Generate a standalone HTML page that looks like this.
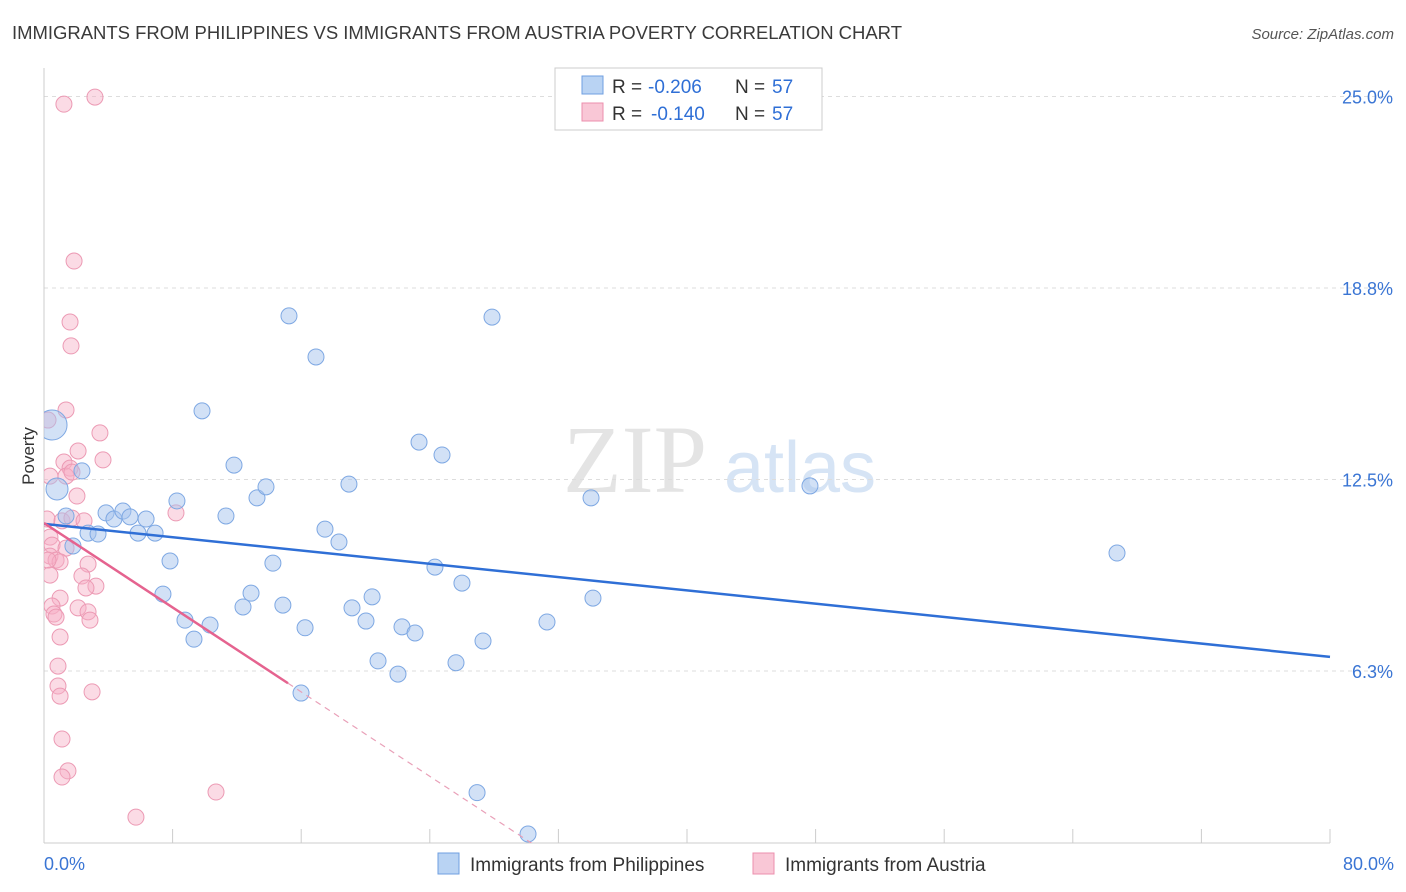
<!DOCTYPE html>
<html><head><meta charset="utf-8"><style>
body{margin:0;background:#fff;font-family:"Liberation Sans",sans-serif;}
svg{display:block}
</style></head><body>
<svg id="chart" width="1406" height="892">
<defs><clipPath id="plotclip"><rect x="44" y="60" width="1360" height="783"/></clipPath></defs>
<text x="12" y="39" font-size="18.5" fill="#3a3a3a" textLength="890">IMMIGRANTS FROM PHILIPPINES VS IMMIGRANTS FROM AUSTRIA POVERTY CORRELATION CHART</text>
<text x="1394" y="39" font-size="15" fill="#555" text-anchor="end" font-style="italic">Source: ZipAtlas.com</text>
<text x="635" y="492" font-size="96" fill="#e4e4e4" font-family="Liberation Serif,serif" text-anchor="middle">ZIP</text>
<text x="800" y="492" font-size="72" fill="#d6e4f5" text-anchor="middle">atlas</text>
<g id="grid"></g><g id="axes"></g><g id="marks" clip-path="url(#plotclip)"></g>
<text transform="translate(34,456) rotate(-90)" font-size="17" fill="#333" text-anchor="middle">Poverty</text>
<g>
<rect x="555" y="68" width="267" height="62" fill="#fff" stroke="#ccc"/>
<rect x="582" y="76" width="21" height="18" fill="#b9d3f3" stroke="#6f9fe0"/>
<rect x="582" y="103" width="21" height="18" fill="#f9c7d6" stroke="#ec8fad"/>
<text x="612" y="93" font-size="19" fill="#333">R =</text>
<text x="648" y="93" font-size="19" fill="#2f6fd6">-0.206</text>
<text x="735" y="93" font-size="19" fill="#333">N =</text>
<text x="772" y="93" font-size="19" fill="#2f6fd6">57</text>
<text x="612" y="120" font-size="19" fill="#333">R =</text>
<text x="651" y="120" font-size="19" fill="#2f6fd6">-0.140</text>
<text x="735" y="120" font-size="19" fill="#333">N =</text>
<text x="772" y="120" font-size="19" fill="#2f6fd6">57</text>
</g>
<g>
<rect x="438" y="853" width="21" height="21" fill="#b9d3f3" stroke="#6f9fe0"/>
<text x="470" y="871" font-size="19" fill="#333">Immigrants from Philippines</text>
<rect x="753" y="853" width="21" height="21" fill="#f9c7d6" stroke="#ec8fad"/>
<text x="785" y="871" font-size="19" fill="#333">Immigrants from Austria</text>
</g>
</svg>
<script>
const yTicks=[6.25,12.5,18.75,25];
const yTickLabels=["6.3%","12.5%","18.8%","25.0%"];
const xTickLabels=["0.0%","80.0%"];
const blueX=[0.5,0.81,2.36,1.37,1.8,2.74,3.36,3.86,4.35,4.91,5.35,5.85,6.35,6.91,7.4,7.84,8.27,8.77,9.33,9.83,10.33,11.32,11.82,12.38,12.88,13.25,13.81,14.24,14.86,15.24,16.24,15.99,16.92,17.48,18.35,18.97,19.16,20.03,20.41,20.78,22.02,22.27,23.08,23.33,24.32,24.76,25.63,26.0,26.94,27.31,27.87,30.11,31.29,34.03,34.15,47.65,66.75];
const blueY=[14.28,12.19,12.78,11.31,10.33,10.75,10.72,11.41,11.21,11.47,11.28,10.75,11.21,10.75,8.76,9.84,11.8,7.91,7.29,14.74,7.75,11.31,12.97,8.34,8.79,11.9,12.26,9.77,8.4,17.84,7.66,5.53,16.5,10.88,10.46,12.35,8.31,7.88,8.67,6.58,6.15,7.69,7.49,13.72,9.64,13.3,6.52,9.12,2.28,7.23,17.8,0.93,7.85,11.9,8.63,12.29,10.1];
const pinkX=[1.24,3.17,1.87,1.62,1.68,1.37,0.25,3.48,2.12,3.67,1.24,1.62,1.37,1.74,0.37,2.05,0.19,1.12,1.74,2.49,8.21,0.37,0.5,1.37,0.37,0.75,1.0,0.25,2.74,0.37,2.36,1.0,0.5,2.12,2.74,3.23,2.61,0.62,0.75,2.86,1.0,0.87,0.87,2.99,1.0,1.12,1.49,1.12,10.7,5.72];
const pinkY=[24.75,24.98,19.63,17.64,16.86,14.77,14.44,14.02,13.43,13.14,13.07,12.87,12.61,12.74,12.61,11.96,11.21,11.15,11.24,11.15,11.41,10.62,10.36,10.26,10.0,9.87,9.81,9.87,9.74,9.38,9.35,8.63,8.37,8.31,8.18,9.02,8.96,8.11,8.01,7.91,7.36,6.41,5.76,5.57,5.43,4.03,2.99,2.79,2.3,1.48];
const blueBig=[0,1];
const blueTrend=[11.05,-0.05425];
const pinkTrend=[11.08,-0.3445];
const pinkSolidEnd=15.18;
const NS="http://www.w3.org/2000/svg";
const X=v=>44+v*1286/80, Y=v=>862.5-v*30.64;
function mk(tag,attrs,parent){const e=document.createElementNS(NS,tag);for(const k in attrs)e.setAttribute(k,attrs[k]);document.getElementById(parent).appendChild(e);return e;}
yTicks.forEach((t,i)=>{
 const g=mk('line',{x1:44,x2:1394,y1:Y(t),y2:Y(t),stroke:'#ddd','stroke-dasharray':'4,4'},'grid');
 
 
 const l=mk('text',{x:1393,y:Y(t)+7,'font-size':18,fill:'#3a75d4','text-anchor':'end'},'axes');
 l.textContent=yTickLabels[i];
 
 
});
let a=mk('line',{x1:44,x2:44,y1:68,y2:843,stroke:'#ccc'},'axes');


a=mk('line',{x1:44,x2:1330,y1:843,y2:843,stroke:'#ccc'},'axes');


for(let i=0;i<=10;i++){const t=mk('line',{x1:X(i*8),x2:X(i*8),y1:829,y2:843,stroke:'#ccc'},'axes');
 
 }
[[0,'start',44],[80,'end',1394]].forEach((d,i)=>{const t=mk('text',{x:d[2],y:870,'font-size':18,fill:'#3a75d4','text-anchor':d[1]},'axes');t.textContent=xTickLabels[i];
 
 });
pinkX.forEach((x,i)=>{const c=mk('circle',{cx:X(x),cy:Y(pinkY[i]),r:8,fill:'rgba(246,176,198,0.45)',stroke:'#ec9ab4','stroke-width':1},'marks');
 
 });
blueX.forEach((x,i)=>{const big=blueBig.includes(i);const c=mk('circle',{cx:X(x),cy:Y(blueY[i]),r:big?(i==0?15:11):8,fill:'rgba(165,196,238,0.5)',stroke:'#7ea8e3','stroke-width':1},'marks');
 
 });
let l=mk('line',{x1:X(0),y1:Y(blueTrend[0]),x2:X(80),y2:Y(blueTrend[0]+blueTrend[1]*80),stroke:'#2f6fd6','stroke-width':2.5},'marks');


l=mk('line',{x1:X(0),y1:Y(pinkTrend[0]),x2:X(pinkSolidEnd),y2:Y(pinkTrend[0]+pinkTrend[1]*pinkSolidEnd),stroke:'#e5638f','stroke-width':2.5},'marks');


const xz=-pinkTrend[0]/pinkTrend[1]+0.5;
l=mk('line',{x1:X(pinkSolidEnd),y1:Y(pinkTrend[0]+pinkTrend[1]*pinkSolidEnd),x2:X(xz),y2:Y(pinkTrend[0]+pinkTrend[1]*xz),stroke:'#e9a0b8','stroke-width':1.2,'stroke-dasharray':'6,5'},'marks');


</script>
</body></html>
